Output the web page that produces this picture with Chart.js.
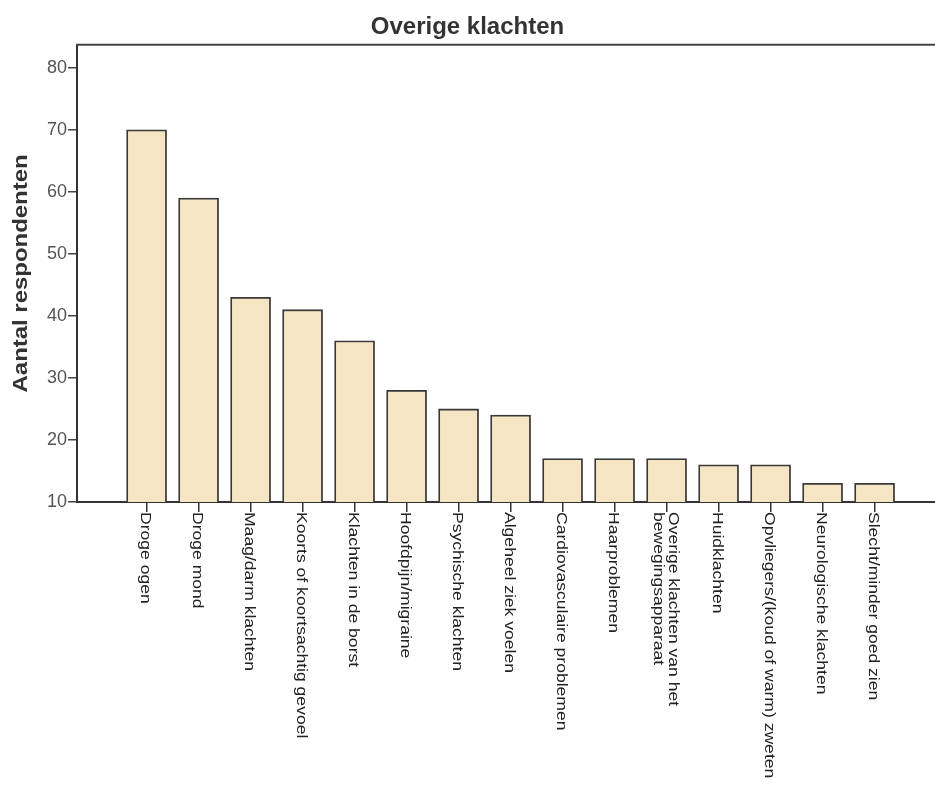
<!DOCTYPE html>
<html>
<head>
<meta charset="utf-8">
<script src="https://cdn.jsdelivr.net/npm/chart.js@4"></script>
<style>
html,body{margin:0;padding:0;background:#fff;}
canvas{display:block;}
</style>
</head>
<body>
<canvas id="c" width="935" height="785"></canvas>
<script>
const chartTitle = 'Overige klachten';
const yTitle = 'Aantal respondenten';
const categories = [
  ['Droge ogen'],
  ['Droge mond'],
  ['Maag/darm klachten'],
  ['Koorts of koortsachtig gevoel'],
  ['Klachten in de borst'],
  ['Hoofdpijn/migraine'],
  ['Psychische klachten'],
  ['Algeheel ziek voelen'],
  ['Cardiovasculaire problemen'],
  ['Haarproblemen'],
  ['Overige klachten van het', 'bewegingsapparaat'],
  ['Huidklachten'],
  ['Opvliegers/(koud of warm) zweten'],
  ['Neurologische klachten'],
  ['Slecht/minder goed zien']
];
const values = [70, 59, 43, 41, 36, 28, 25, 24, 17, 17, 17, 16, 16, 13, 13];
const yTicks = [10, 20, 30, 40, 50, 60, 70, 80];

const FONT = "'Liberation Sans', Arial, Helvetica, sans-serif";

const bgPlugin = {
  id: 'bg',
  beforeDraw(chart) {
    const ctx = chart.ctx;
    ctx.save();
    ctx.fillStyle = '#fff';
    ctx.fillRect(0, 0, chart.width, chart.height);
    ctx.restore();
  }
};

const decoPlugin = {
  id: 'deco',
  afterDraw(chart) {
    const ctx = chart.ctx;
    const a = chart.chartArea;
    const xs = chart.scales.x;
    ctx.save();
    // top border
    ctx.strokeStyle = '#444';
    ctx.lineWidth = 2;
    ctx.beginPath();
    ctx.moveTo(a.left - 1, a.top);
    ctx.lineTo(a.right, a.top);
    ctx.stroke();

    // y axis title (reading bottom to top)
    ctx.save();
    ctx.fillStyle = '#333';
    ctx.font = 'bold 21px ' + FONT;
    ctx.textAlign = 'center';
    ctx.textBaseline = 'middle';
    ctx.translate(21, (a.top + a.bottom) / 2);
    ctx.rotate(-Math.PI / 2);
    ctx.scale(1.14, 1);
    ctx.fillText(yTitle, 0, 0);
    ctx.restore();

    // rotated category labels (reading top to bottom)
    ctx.fillStyle = '#222';
    ctx.font = '15px ' + FONT;
    ctx.textAlign = 'left';
    ctx.textBaseline = 'middle';
    const lh = 15;
    categories.forEach((lines, i) => {
      const x = xs.getPixelForValue(i);
      const y = a.bottom + 10;
      ctx.save();
      ctx.translate(x, y);
      ctx.rotate(Math.PI / 2);
      ctx.scale(1.17, 1);
      const n = lines.length;
      lines.forEach((t, k) => {
        const off = (k - (n - 1) / 2) * lh + 1;
        ctx.fillText(t, 0, off);
      });
      ctx.restore();
    });
    ctx.restore();
  }
};

new Chart(document.getElementById('c'), {
  type: 'bar',
  data: {
    datasets: [{
      data: values.map((v, i) => ({ x: i, y: v })),
      backgroundColor: '#F5E5C3',
      borderColor: '#383838',
      borderWidth: 1.8,
      barThickness: 40,
      borderSkipped: false
    }]
  },
  options: {
    responsive: false,
    animation: false,
    devicePixelRatio: 1,
    layout: { padding: { left: 0, right: 0, top: 0, bottom: 0 } },
    plugins: {
      legend: { display: false },
      tooltip: { enabled: false },
      title: {
        display: true,
        text: chartTitle,
        color: '#333',
        font: { family: FONT, size: 24, weight: 'bold' },
        padding: { top: 13, bottom: 3 }
      }
    },
    scales: {
      x: {
        type: 'linear',
        offset: false,
        min: -1.338,
        max: 15.162,
        afterBuildTicks(scale) {
          scale.ticks = categories.map((c, i) => ({ value: i }));
        },
        afterFit(scale) { scale.height = 283; },
        ticks: {
          autoSkip: false,
          callback: () => '',
          maxRotation: 0
        },
        grid: {
          offset: false,
          drawOnChartArea: false,
          drawTicks: true,
          tickLength: 10,
          color: '#333',
          lineWidth: 1.5
        },
        border: { display: true, color: '#333', width: 2 }
      },
      y: {
        min: 10,
        max: 83.7,
        afterBuildTicks(scale) {
          scale.ticks = yTicks.map(v => ({ value: v }));
        },
        afterFit(scale) { scale.width = 77; },
        ticks: {
          color: '#555',
          font: { family: FONT, size: 18 },
          padding: 1
        },
        grid: {
          drawOnChartArea: false,
          drawTicks: true,
          tickLength: 9,
          color: '#444',
          lineWidth: 1.5
        },
        border: { display: true, color: '#333', width: 2 },
        title: { display: false }
      }
    }
  },
  plugins: [bgPlugin, decoPlugin]
});
</script>
</body>
</html>
